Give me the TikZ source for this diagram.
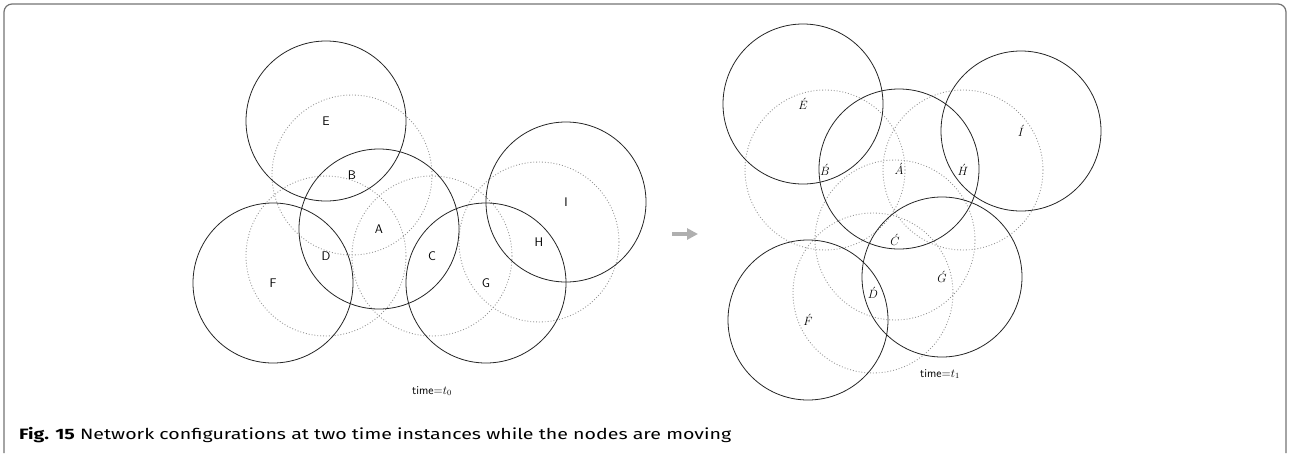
\documentclass[tikz,border=0pt]{standalone}
\usepackage{fontspec}
\usepackage{graphicx}
\newfontfamily\capfont{Fira Sans}
\usetikzlibrary{arrows.meta}
\definecolor{framegray}{RGB}{115,115,115}
\definecolor{dotgray}{RGB}{150,150,150}
\definecolor{arrgray}{RGB}{175,175,175}
\tikzset{
  rangecirc/.style={circle, minimum size=160pt, inner sep=0pt, outer sep=0pt},
  solidc/.style={rangecirc, draw=black!85, line width=0.8pt},
  dotc/.style={rangecirc, draw=dotgray, line width=0.9pt, dotted},
  lsans/.style={inner sep=1pt, font=\sffamily\fontsize{12.5}{14}\selectfont},
  lmath/.style={inner sep=1pt, font=\fontsize{12.5}{14}\selectfont},
  timelbl/.style={font=\fontsize{12}{14}\selectfont},
}
\begin{document}
\begin{tikzpicture}[x=1pt,y=-1pt]
\useasboundingbox (0,0) rectangle (1291,453);
% frame
\draw[framegray, line width=1.2pt, rounded corners=8pt] (4,453) -- (4,4) -- (1286,4) -- (1286,453);
% left configuration: ranges
\node[dotc] (B) at (352,175) {};
\node[dotc] (D) at (326,256) {};
\node[dotc] (C) at (432,256) {};
\node[dotc] (H) at (539,242) {};
\node[solidc] (E) at (326,121) {};
\node[solidc] (A) at (379,229) {};
\node[solidc] (F) at (273,283) {};
\node[solidc] (G) at (486,283) {};
\node[solidc] (I) at (566,202) {};
% left labels
\node[lsans] (Bl) at (B.center) {B};
\node[lsans] (Dl) at (D.center) {D};
\node[lsans] (Cl) at (C.center) {C};
\node[lsans] (Hl) at (H.center) {H};
\node[lsans] (El) at (E.center) {E};
\node[lsans] (Al) at (A.center) {A};
\node[lsans] (Fl) at (F.center) {F};
\node[lsans] (Gl) at (G.center) {G};
\node[lsans] (Il) at (I.center) {I};
\node[timelbl] (t0) at (432,391) {\textsf{time}${=}t_0$};
% arrow
\coordinate (arrS) at (672,234);
\coordinate (arrE) at (698,234);
\draw[arrgray, line width=4pt, -{Triangle[length=11pt,width=11pt]}] (arrS) -- (arrE);
% right configuration: ranges
\node[dotc] (B1) at (825,170) {};
\node[dotc] (C1) at (895,240) {};
\node[dotc] (D1) at (873,293) {};
\node[dotc] (H1) at (963,170) {};
\node[solidc] (E1) at (803,104) {};
\node[solidc] (A1) at (899,169) {};
\node[solidc] (F1) at (808,320) {};
\node[solidc] (G1) at (942,277) {};
\node[solidc] (I1) at (1021,131) {};
% right labels
\node[lmath] (B1l) at (B1.center) {$\acute{B}$};
\node[lmath] (C1l) at (C1.center) {$\acute{C}$};
\node[lmath] (D1l) at (D1.center) {$\acute{D}$};
\node[lmath] (H1l) at (H1.center) {$\acute{H}$};
\node[lmath] (E1l) at (E1.center) {$\acute{E}$};
\node[lmath] (A1l) at (A1.center) {$\acute{A}$};
\node[lmath] (F1l) at (F1.center) {$\acute{F}$};
\node[lmath] (G1l) at (G1.center) {$\acute{G}$};
\node[lmath] (I1l) at (I1.center) {$\acute{I}$};
\node[timelbl] (t1) at (940,374) {\textsf{time}${=}t_1$};
% caption
\node[anchor=base west, inner sep=0pt] (cap) at (19,439) {\capfont\fontsize{15}{18}\selectfont\resizebox{712pt}{\height}{\bfseries Fig. 15\mdseries\ Network configurations at two time instances while the nodes are moving}};
\end{tikzpicture}
\end{document}
